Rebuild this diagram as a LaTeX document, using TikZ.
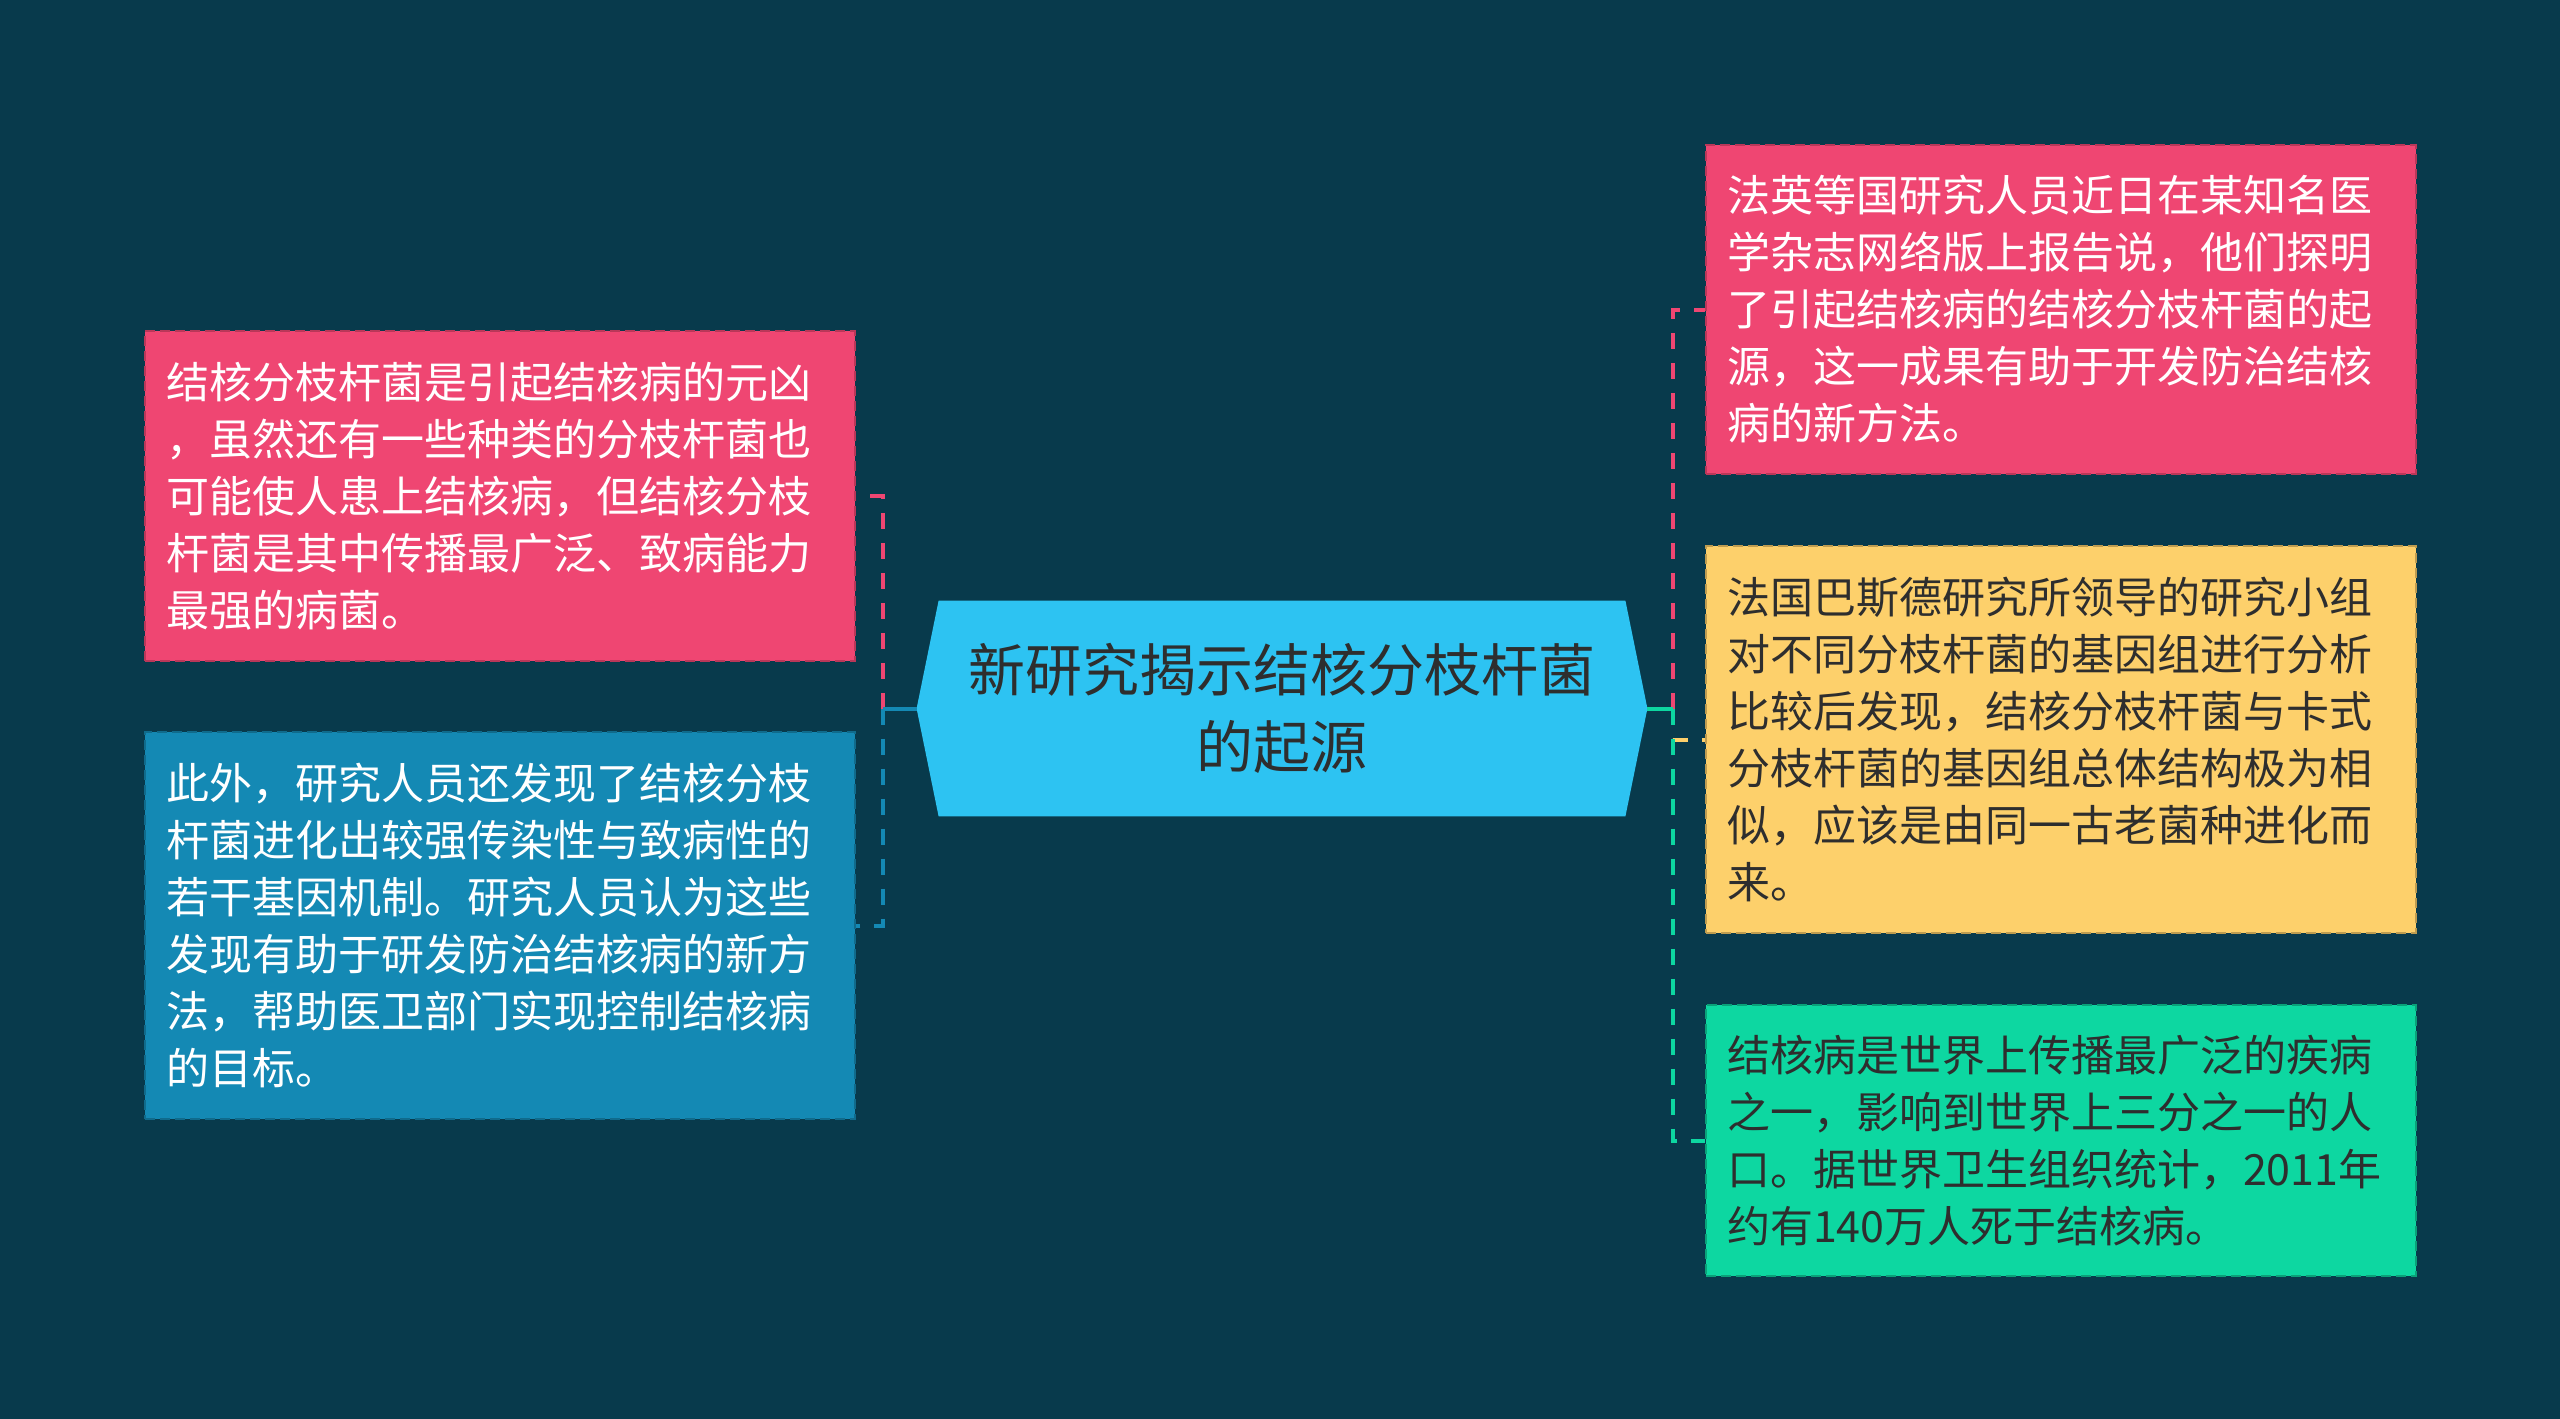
\documentclass[tikz,border=0pt]{standalone}
\usepackage{fontspec}
\setmainfont{Noto Sans CJK SC}
\usetikzlibrary{positioning,backgrounds}

\definecolor{bgdark}{HTML}{083A4C}
\definecolor{rosered}{HTML}{EF4672}
\definecolor{seablue}{HTML}{1489B4}
\definecolor{skyblue}{HTML}{2DC3F2}
\definecolor{sunyellow}{HTML}{FDD06B}
\definecolor{mintgreen}{HTML}{0DD7A1}
\definecolor{inkgray}{HTML}{2E2E2E}

\tikzset{
  leafbox/.style={anchor=north west, minimum width=355pt, text width=334pt,
    inner xsep=10.5pt, align=left, line width=1pt, dash pattern=on 5pt off 2.5pt,
    font=\fontsize{21.5pt}{28.5pt}\selectfont},
  link/.style={line width=2pt, dash pattern=on 8pt off 7pt},
}

\begin{document}
\begin{tikzpicture}[x=0.5pt, y=-0.5pt]

\useasboundingbox (0,0) rectangle (2560,1419);

% centre topic
\node[minimum width=343pt, minimum height=107.5pt, align=center, text=inkgray,
      font=\fontsize{28.5pt}{38.5pt}\selectfont] (root) at (1282,708.5)
      {新研究揭示结核分枝杆菌\\的起源};

% left branch
\node[leafbox, fill=rosered, draw=rosered!78!black, text=white, minimum height=165pt] (cause) at (144,330)
  {结核分枝杆菌是引起结核病的元凶\\，虽然还有一些种类的分枝杆菌也\\可能使人患上结核病，但结核分枝\\杆菌是其中传播最广泛、致病能力\\最强的病菌。};
\node[leafbox, fill=seablue, draw=seablue!78!black, text=white, minimum height=193.5pt] (extra) at (144,731)
  {此外，研究人员还发现了结核分枝\\杆菌进化出较强传染性与致病性的\\若干基因机制。研究人员认为这些\\发现有助于研发防治结核病的新方\\法，帮助医卫部门实现控制结核病\\的目标。};

% right branch
\node[leafbox, fill=rosered, draw=rosered!78!black, text=white, minimum height=164.5pt] (report) at (1705,144)
  {法英等国研究人员近日在某知名医\\学杂志网络版上报告说，他们探明\\了引起结核病的结核分枝杆菌的起\\源，这一成果有助于开发防治结核\\病的新方法。};
\node[leafbox, fill=sunyellow, draw=sunyellow!75!black, text=inkgray, minimum height=193.5pt] (genome) at (1705,545)
  {法国巴斯德研究所领导的研究小组\\对不同分枝杆菌的基因组进行分析\\比较后发现，结核分枝杆菌与卡式\\分枝杆菌的基因组总体结构极为相\\似，应该是由同一古老菌种进化而\\来。};
\node[leafbox, fill=mintgreen, draw=mintgreen!75!black, text=inkgray, minimum height=135.5pt] (burden) at (1705,1004)
  {结核病是世界上传播最广泛的疾病\\之一，影响到世界上三分之一的人\\口。据世界卫生组织统计，2011年\\约有140万人死于结核病。};

\begin{scope}[on background layer]
  \fill[bgdark] (0,0) rectangle (2560,1419);
  \fill[skyblue] (root.north west) -- (root.north east) -- ([xshift=11pt]root.east)
    -- (root.south east) -- (root.south west) -- ([xshift=-11pt]root.west) -- cycle;
\end{scope}

\coordinate (tipL) at ([xshift=-11pt]root.west);
\coordinate (tipR) at ([xshift=11pt]root.east);
\coordinate (hubL) at (883,708.5);
\coordinate (hubR) at (1673,708.5);

\draw[link, rosered] (hubL) |- (cause.east);
\draw[link, seablue] (hubL) |- (extra.east);
\draw[line width=2pt, seablue] (tipL) -- (hubL);

\draw[link, rosered] (hubR) |- (report.west);
\draw[link, sunyellow] (hubR) |- (genome.west);
\draw[link, mintgreen] (hubR) |- (burden.west);
\draw[line width=2pt, mintgreen] (tipR) -- (hubR);

\end{tikzpicture}
\end{document}
